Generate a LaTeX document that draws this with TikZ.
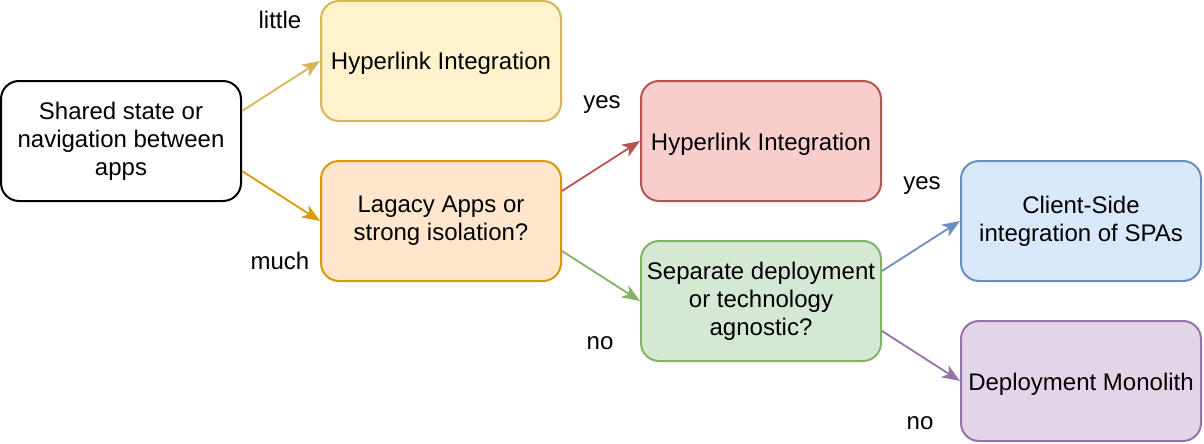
\documentclass[tikz,border=0pt]{standalone}
\usepackage{fontspec}
\setmainfont{Liberation Sans}
\usetikzlibrary{arrows.meta}
\definecolor{yelF}{HTML}{FFF2CC}\definecolor{yelD}{HTML}{D6B656}
\definecolor{oraF}{HTML}{FFE6CC}\definecolor{oraD}{HTML}{D79B00}
\definecolor{redF}{HTML}{F8CECC}\definecolor{redD}{HTML}{B85450}
\definecolor{grnF}{HTML}{D5E8D4}\definecolor{grnD}{HTML}{82B366}
\definecolor{bluF}{HTML}{DAE8FC}\definecolor{bluD}{HTML}{6C8EBF}
\definecolor{purF}{HTML}{E1D5E7}\definecolor{purD}{HTML}{9673A6}
\newcommand{\lnst}{\rule[-5pt]{0pt}{28pt}}
\tikzset{
  box/.style={draw, line width=2pt, rounded corners=18pt, minimum width=240pt, minimum height=120pt,
    align=center, inner sep=0pt, font=\fontsize{24}{28}\selectfont, text=black,
    execute at begin node=\lnst, execute at end node=\lnst},
  edge/.style={line width=1.8pt, -{Stealth[length=18pt,width=14pt,inset=5pt]}},
  lbl/.style={font=\fontsize{24}{28}\selectfont, inner sep=0pt, text=black,
    execute at begin node=\lnst}
}
\begin{document}
\begin{tikzpicture}[x=1pt,y=-1pt]
\useasboundingbox (0,0) rectangle (1204,444);
\node[box, draw=black, fill=white] (shared) at (121,141) {Shared state or\\navigation between\\apps};
\node[box, draw=yelD, fill=yelF] (hyp1) at (441,61) {Hyperlink Integration};
\node[box, draw=oraD, fill=oraF] (legacy) at (441,221) {Lagacy Apps or\\strong isolation?};
\node[box, draw=redD, fill=redF] (hyp2) at (761,141) {Hyperlink Integration};
\node[box, draw=grnD, fill=grnF] (sep) at (761,301) {Separate deployment\\or technology\\agnostic?};
\node[box, draw=bluD, fill=bluF] (client) at (1081,221) {Client-Side\\integration of SPAs};
\node[box, draw=purD, fill=purF] (mono) at (1081,381) {Deployment Monolith};

\draw[edge, yelD] ([yshift=30pt]shared.east) -- (hyp1.west);
\draw[edge, oraD] ([yshift=-30pt]shared.east) -- (legacy.west);
\draw[edge, redD] ([yshift=30pt]legacy.east) -- (hyp2.west);
\draw[edge, grnD] ([yshift=-30pt]legacy.east) -- (sep.west);
\draw[edge, bluD] ([yshift=30pt]sep.east) -- (client.west);
\draw[edge, purD] ([yshift=-30pt]sep.east) -- (mono.west);

\node[lbl] (l1) at (280,20) {little};
\node[lbl] (l2) at (280,260) {much};
\node[lbl] (l3) at (602,99) {yes};
\node[lbl] (l4) at (600,340) {no};
\node[lbl] (l5) at (922,180) {yes};
\node[lbl] (l6) at (920,420) {no};
\end{tikzpicture}
\end{document}
